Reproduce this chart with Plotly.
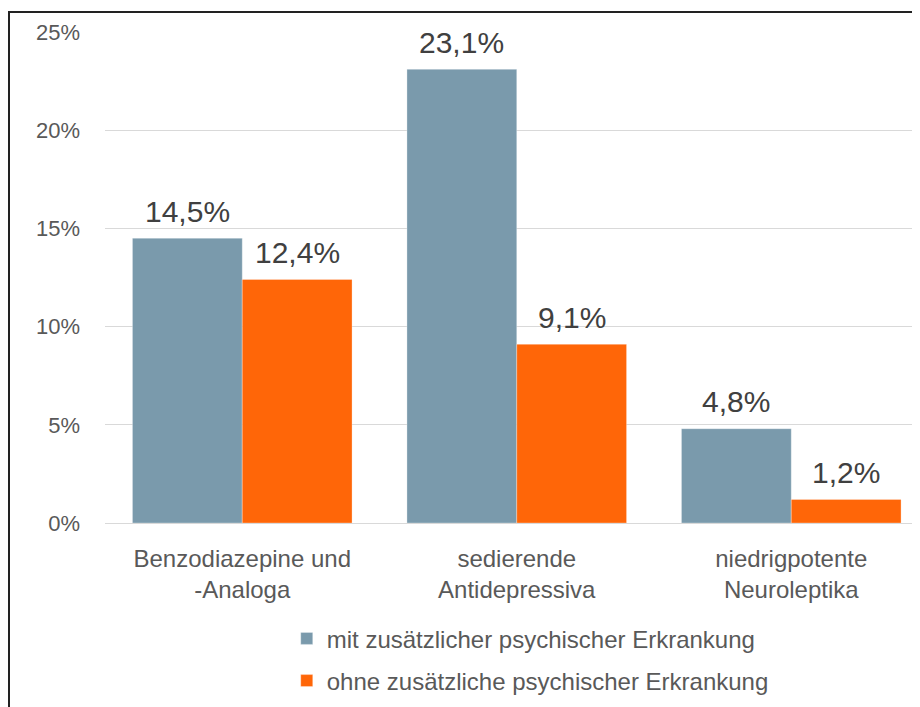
import plotly.graph_objects as go

categories = ["Benzodiazepine und<br>-Analoga", "sedierende<br>Antidepressiva", "niedrigpotente<br>Neuroleptika"]
mit_values = [14.5, 23.1, 4.8]
ohne_values = [12.4, 9.1, 1.2]
series_names = ["mit zusätzlicher psychischer Erkrankung", "ohne zusätzliche psychischer Erkrankung"]
y_ticks = [0, 5, 10, 15, 20, 25]

FONT = "Liberation Sans, Arial, sans-serif"
GREY = "#595959"
colors = ["#7A9AAC", "#FF6608"]

fig = go.Figure()
for name, vals, col, grp in [(series_names[0], mit_values, colors[0], "a"),
                             (series_names[1], ohne_values, colors[1], "b")]:
    fig.add_trace(go.Bar(x=categories, y=vals, name=name, legendgroup=grp, marker_color=col,
                         marker_line=dict(color="rgba(255,255,255,0.6)", width=0.5)))

# value labels above each bar
annotations = []
for vals, shift in [(mit_values, -55), (ohne_values, 55)]:
    for c, v in zip(categories, vals):
        annotations.append(dict(x=c, y=v, xref="x", yref="y", text=f"{v:.1f}%".replace(".", ","),
                                showarrow=False, xshift=shift, yshift=27, yanchor="middle",
                                font=dict(size=30, color="#404040")))

fig.update_layout(
    width=920, height=707,
    margin=dict(l=97, r=8, t=24, b=192),
    paper_bgcolor="white", plot_bgcolor="white",
    barmode="group", bargap=0.2, bargroupgap=0,
    font=dict(family=FONT, size=24, color=GREY),
    showlegend=True,
    legend=dict(orientation="v", x=0.223, xanchor="left", y=-0.19, yanchor="top",
                tracegroupgap=8, font=dict(size=24, color=GREY)),
    annotations=annotations,
    shapes=[dict(type="rect", xref="paper", yref="paper", x0=-0.1178, x1=1.2, y0=-0.5, y1=1.0407,
                 line=dict(color="#222222", width=2))],
)
fig.update_xaxes(range=[-0.5, 2.469], showgrid=False, showline=False, ticks="",
                 tickfont=dict(size=24, color=GREY), ticklabelstandoff=19)
fig.update_yaxes(range=[0, 25], tickvals=y_ticks, ticktext=[f"{v}%" for v in y_ticks],
                 showgrid=True, gridcolor="#D9D9D9", gridwidth=1, zeroline=True,
                 zerolinecolor="#D9D9D9", zerolinewidth=1, showline=False,
                 tickfont=dict(size=22, color=GREY), ticklabelstandoff=24)

fig.write_html("out.html")
